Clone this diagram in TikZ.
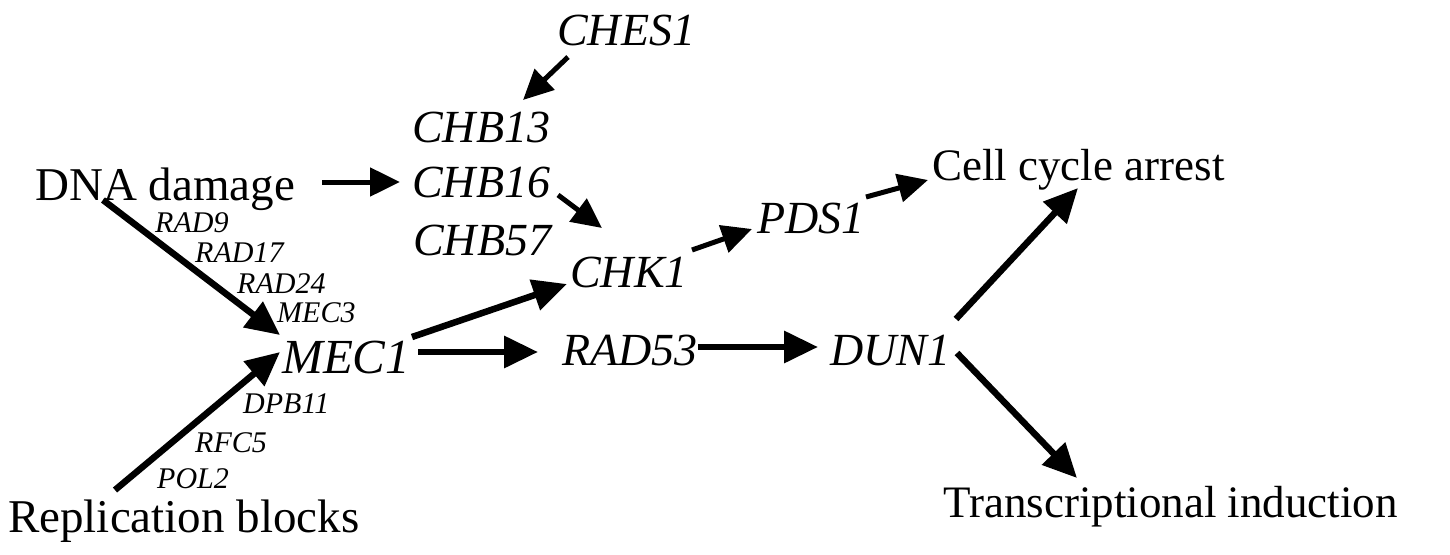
\documentclass[tikz,border=0pt]{standalone}
\usepackage{fontspec}
\setmainfont{Liberation Serif}
\usetikzlibrary{arrows.meta,calc}
\tikzset{
  lbl/.style={anchor=base west,inner sep=0pt,font=\fontsize{45}{54}\selectfont},
  biglbl/.style={anchor=base west,inner sep=0pt,font=\fontsize{47}{56}\selectfont},
  gene/.style={anchor=base west,inner sep=0pt,font=\fontsize{46}{55}\selectfont\itshape},
  small/.style={anchor=base west,inner sep=0pt,font=\fontsize{30}{36}\selectfont\itshape},
  thick arrow/.style={line width=6.5pt,-{Triangle[length=34pt,width=31pt]}},
  thin arrow/.style={line width=5pt,-{Triangle[length=30pt,width=28pt]}}
}
\begin{document}
\begin{tikzpicture}[x=1pt,y=-1pt]
\useasboundingbox (0,0) rectangle (1450,554);

% inputs
\node[biglbl] (dna) at (35,200) {DNA damage};
\node[biglbl] (rep) at (8,532) {Replication blocks};

% genes
\node[gene] (ches)  at (557,45)  {CHES1};
\node[gene] (chb13) at (412,142) {CHB13};
\node[gene] (chb16) at (412,197) {CHB16};
\node[gene] (chb57) at (413,255) {CHB57};
\node[gene] (chk)   at (570,287) {CHK1};
\node[gene] (pds)   at (757,233) {PDS1};
\node[gene,font=\fontsize{49}{58}\selectfont\itshape] (mec) at (282,373) {MEC1};
\node[gene] (rad53) at (562,365) {RAD53};
\node[gene] (dun)   at (830,365) {DUN1};

% outputs
\node[lbl] (cca) at (932,180) {Cell cycle arrest};
\node[lbl] (ti)  at (943,517) {Transcriptional induction};

% sensor genes along the input arrows
\node[small] (rad9)  at (155,232) {RAD9};
\node[small] (rad17) at (195,262) {RAD17};
\node[small] (rad24) at (237,293) {RAD24};
\node[small] (mec3)  at (277,322) {MEC3};
\node[small] (dpb)   at (243,413) {DPB11};
\node[small] (rfc)   at (195,452) {RFC5};
\node[small] (pol)   at (157,488) {POL2};

% connectors
\draw[thin arrow]  ($(dna.base west)+(287,-18)$)  -- ($(chb16.base west)+(-12,-15)$);
\draw[thick arrow] ($(dna.base west)+(68,0)$)     -- ($(mec.base west)+(-2,-38)$);
\draw[thick arrow] ($(rep.base west)+(107,-42)$)  -- ($(mec.base west)+(-2,-21)$);
\draw[thin arrow]  ($(ches.base west)+(11,12)$)   -- ($(chb13.base west)+(111,-42)$);
\draw[thin arrow]  ($(chb16.base west)+(146,-2)$) -- ($(chk.base west)+(32,-59)$);
\draw[thin arrow]  ($(chk.base west)+(122,-37)$)  -- ($(pds.base west)+(-5,-4)$);
\draw[thin arrow]  ($(pds.base west)+(109,-36)$)  -- ($(cca.base west)+(-4,0)$);
\draw[thick arrow] ($(mec.base west)+(130,-36)$)  -- ($(chk.base west)+(-3,-3)$);
\draw[thick arrow] ($(mec.base west)+(136,-21)$)  -- ($(rad53.base west)+(-24,-13)$);
\draw[thick arrow] ($(rad53.base west)+(136,-18)$) -- ($(dun.base west)+(-12,-18)$);
\draw[thick arrow] ($(dun.base west)+(126,-46)$)  -- ($(cca.base west)+(146,8)$);
\draw[thick arrow] ($(dun.base west)+(127,-12)$)  -- ($(ti.base west)+(134,-39)$);
\end{tikzpicture}
\end{document}
